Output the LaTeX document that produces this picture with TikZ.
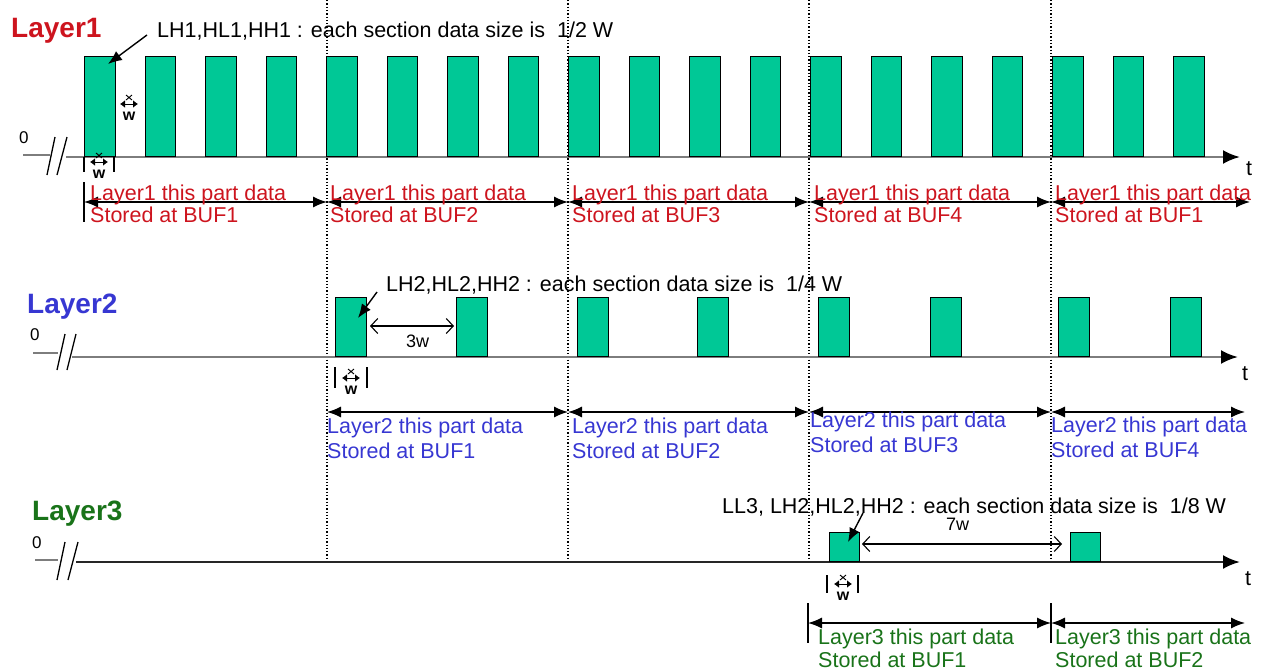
\documentclass[tikz,border=0pt]{standalone}
\usepackage{fontspec}
\setmainfont{Liberation Sans}
\usetikzlibrary{arrows.meta}
\definecolor{boxfill}{RGB}{0,200,150}
\definecolor{redL}{RGB}{205,20,30}
\definecolor{blueL}{RGB}{55,55,210}
\definecolor{greenL}{RGB}{25,115,25}
\definecolor{axisgray}{RGB}{125,125,125}
\begin{document}
\begin{tikzpicture}[x=1pt,y=-1pt,
  pulse/.style={draw=black,line width=1.4pt,fill=boxfill,inner sep=0pt,anchor=south west},
  title/.style={font=\fontsize{28}{28}\selectfont\bfseries,anchor=base west,inner sep=0pt},
  lbl/.style={font=\fontsize{21.5}{21.5}\selectfont,anchor=base west,inner sep=0pt},
  zero/.style={font=\fontsize{17}{17}\selectfont,anchor=base west,inner sep=0pt},
  gaplbl/.style={font=\fontsize{18}{18}\selectfont,anchor=base west,inner sep=0pt},
  axisline/.style={line width=2.6pt,-{Latex[length=17pt,width=14pt,color=black]}},
  spanarrow/.style={line width=1.3pt,{Latex[length=14pt,width=11pt]}-{Latex[length=14pt,width=11pt]}},
  gaparrow/.style={line width=1.1pt,{Straight Barb[length=7pt,width=15pt]}-{Straight Barb[length=7pt,width=15pt]}},
  divider/.style={dotted,line width=1.3pt},
  pointer/.style={line width=1.4pt,-{Latex[length=14pt,width=11pt]}},
  tickline/.style={line width=1.2pt},
  brk/.style={line width=1.3pt},
  wmark/.pic={
    \draw[line width=1pt,{Latex[length=5pt,width=8pt]}-{Latex[length=5pt,width=8pt]}] (-9,0) -- (9,0);
    \draw[line width=0.9pt] (-3,-4) -- (3,-9) (-3,-9) -- (3,-4);
    \node[font=\fontsize{16}{16}\selectfont\bfseries,inner sep=0pt,anchor=base] at (0,16) {w};
  }
]
\useasboundingbox (0,0) rectangle (1262,672);

% ---------- dividers ----------
\foreach \x [count=\k] in {327,568,809,1051} {
  \coordinate (dtop\k) at (\x,0);
  \coordinate (dbot\k) at (\x,562);
  \draw[divider] (dtop\k) -- (dbot\k);
}

% ================= Layer 1 =================
\node[title,text=redL] (t1) at (11,37) {Layer1};
\node[zero] (z1) at (19,143) {0};
\coordinate (a1s) at (23,155); \coordinate (a1e) at (50,155);
\draw[axisgray,line width=2pt] (a1s) -- (a1e);
\coordinate (k1a) at (47,175); \coordinate (k1b) at (55,137);
\coordinate (k1c) at (57,175); \coordinate (k1d) at (67,137);
\draw[brk] (k1a) -- (k1b) (k1c) -- (k1d);
\coordinate (a1l) at (66,157); \coordinate (a1r) at (1240,157);
\draw[axisline,draw=axisgray] (a1l) -- (a1r);
\node[lbl] (tt1) at (1246,175) {t};
\foreach \i in {0,...,18} {
  \node[pulse,minimum width=30.5pt,minimum height=100pt] (p1-\i) at ({84+60.5*\i},157) {};
}
\node[lbl] (n1) at (157,37) {LH1,HL1,HH1 : each section data size is\ \ 1/2 W};
\coordinate (n1f) at (147,35); \coordinate (n1t) at (108,64);
\draw[pointer] (n1f) -- (n1t);
\pic at (129,104) {wmark};
\coordinate (w1a) at (84,157); \coordinate (w1b) at (84,172);
\coordinate (w1c) at (114,157); \coordinate (w1d) at (114,172);
\draw[tickline] (w1a) -- (w1b) (w1c) -- (w1d);
\pic at (99,162) {wmark};
\coordinate (s1t) at (84,182); \coordinate (s1b) at (84,222);
\draw[tickline] (s1t) -- (s1b);
\foreach \x [count=\k from 0] in {84,327,568,809,1051,1250} {
  \coordinate (s1-\k) at (\x,202);
}
\foreach \a/\b in {0/1,1/2,2/3,3/4,4/5} { \draw[spanarrow] (s1-\a) -- (s1-\b); }
\foreach \x/\n [count=\k] in {90/1,330/2,572/3,814/4,1055/1} {
  \node[lbl,text=redL] (l1a\k) at (\x,200) {Layer1 this part data};
  \node[lbl,text=redL] (l1b\k) at (\x,222) {Stored at BUF\n};
}

% ================= Layer 2 =================
\node[title,text=blueL] (t2) at (27,313) {Layer2};
\node[zero] (z2) at (30,340) {0};
\coordinate (a2s) at (33,353); \coordinate (a2e) at (58,353);
\draw[axisgray,line width=2pt] (a2s) -- (a2e);
\coordinate (k2a) at (57,370); \coordinate (k2b) at (65,334);
\coordinate (k2c) at (67,370); \coordinate (k2d) at (76,334);
\draw[brk] (k2a) -- (k2b) (k2c) -- (k2d);
\coordinate (a2l) at (72,357); \coordinate (a2r) at (1238,357);
\draw[axisline,draw=axisgray] (a2l) -- (a2r);
\node[lbl] (tt2) at (1242,380) {t};
\foreach \x [count=\k] in {335,456,577,697,818,930,1058,1170} {
  \node[pulse,minimum width=31pt,minimum height=59pt] (p2-\k) at (\x,357) {};
}
\node[lbl] (n2) at (386,291) {LH2,HL2,HH2 : each section data size is\ \ 1/4 W};
\coordinate (n2f) at (377,292); \coordinate (n2t) at (358,318);
\draw[pointer] (n2f) -- (n2t);
\coordinate (g2a) at (370,326); \coordinate (g2b) at (454,326);
\draw[gaparrow] (g2a) -- (g2b);
\node[gaplbl] (g2l) at (406,347) {3w};
\coordinate (w2a) at (335,367); \coordinate (w2b) at (335,388);
\coordinate (w2c) at (367,367); \coordinate (w2d) at (367,388);
\draw[tickline] (w2a) -- (w2b) (w2c) -- (w2d);
\pic at (351,378) {wmark};
\foreach \x [count=\k from 0] in {327,568,809,1051,1245} {
  \coordinate (s2-\k) at (\x,412);
}
\foreach \a/\b in {0/1,1/2,2/3,3/4} { \draw[spanarrow] (s2-\a) -- (s2-\b); }
\foreach \x/\ya/\yb/\n [count=\k] in {327/433/458/1,572/433/458/2,810/427/452/3,1051/432/457/4} {
  \node[lbl,text=blueL] (l2a\k) at (\x,\ya) {Layer2 this part data};
  \node[lbl,text=blueL] (l2b\k) at (\x,\yb) {Stored at BUF\n};
}

% ================= Layer 3 =================
\node[title,text=greenL] (t3) at (32,520) {Layer3};
\node[zero] (z3) at (32,548) {0};
\coordinate (a3s) at (35,560); \coordinate (a3e) at (58,560);
\draw[axisgray,line width=2pt] (a3s) -- (a3e);
\coordinate (k3a) at (57,580); \coordinate (k3b) at (65,542);
\coordinate (k3c) at (68,580); \coordinate (k3d) at (78,542);
\draw[brk] (k3a) -- (k3b) (k3c) -- (k3d);
\coordinate (a3l) at (76,562); \coordinate (a3r) at (1240,562);
\draw[axisline,draw=black!85] (a3l) -- (a3r);
\node[lbl] (tt3) at (1245,585) {t};
\node[pulse,minimum width=30pt,minimum height=29pt] (p3-1) at (829,562) {};
\node[pulse,minimum width=30pt,minimum height=29pt] (p3-2) at (1070,562) {};
\node[lbl] (n3) at (722,513) {LL3, LH2,HL2,HH2 : each section data size is\ \ 1/8 W};
\coordinate (n3f) at (863,513); \coordinate (n3t) at (848,542);
\draw[pointer] (n3f) -- (n3t);
\coordinate (g3a) at (862,544); \coordinate (g3b) at (1062,544);
\draw[gaparrow] (g3a) -- (g3b);
\node[gaplbl] (g3l) at (946,530) {7w};
\coordinate (w3a) at (827,575); \coordinate (w3b) at (827,593);
\coordinate (w3c) at (858,575); \coordinate (w3d) at (858,593);
\draw[tickline] (w3a) -- (w3b) (w3c) -- (w3d);
\pic at (843,584) {wmark};
\coordinate (s3ta) at (808,603); \coordinate (s3ba) at (808,643);
\coordinate (s3tb) at (1051,603); \coordinate (s3bb) at (1051,643);
\draw[tickline] (s3ta) -- (s3ba) (s3tb) -- (s3bb);
\coordinate (s3-0) at (808,623); \coordinate (s3-1) at (1051,623); \coordinate (s3-2) at (1245,623);
\draw[spanarrow] (s3-0) -- (s3-1);
\draw[spanarrow] (s3-1) -- (s3-2);
\node[lbl,text=greenL] (l3a1) at (818,644) {Layer3 this part data};
\node[lbl,text=greenL] (l3b1) at (818,667) {Stored at BUF1};
\node[lbl,text=greenL] (l3a2) at (1055,644) {Layer3 this part data};
\node[lbl,text=greenL] (l3b2) at (1055,667) {Stored at BUF2};
\end{tikzpicture}
\end{document}
